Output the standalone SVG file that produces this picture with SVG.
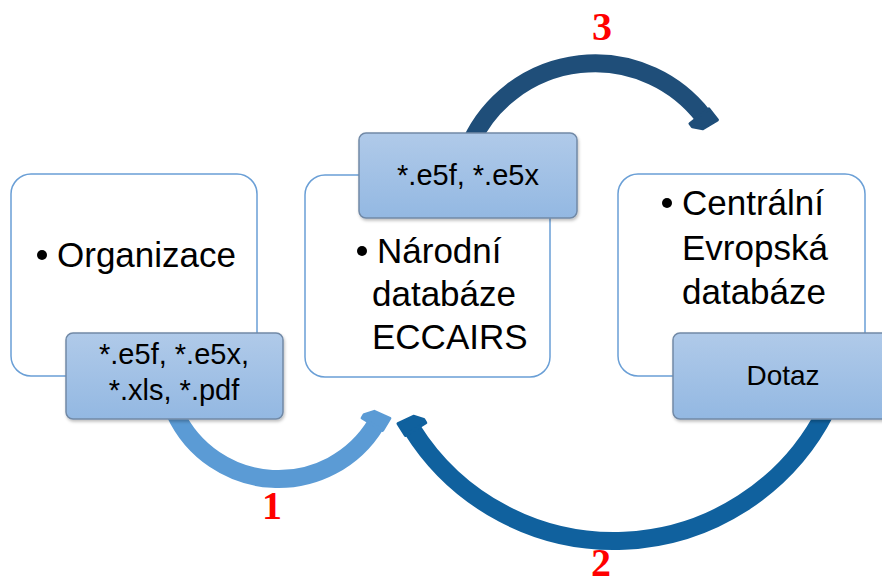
<svg xmlns="http://www.w3.org/2000/svg" width="882" height="586" viewBox="0 0 882 586">
  <defs>
    <linearGradient id="subGrad" x1="0" y1="0" x2="0" y2="1">
      <stop offset="0" stop-color="#b0cae9"/>
      <stop offset="1" stop-color="#93b8e2"/>
    </linearGradient>
    <filter id="shadow" x="-10%" y="-10%" width="130%" height="140%">
      <feDropShadow dx="1" dy="2" stdDeviation="1.5" flood-color="#000" flood-opacity="0.25"/>
    </filter>
  </defs>
  <style>
    .main { fill: #ffffff; stroke: #6a9fd6; stroke-width: 1.5; }
    .sub { fill: url(#subGrad); stroke: #7189a6; stroke-width: 1.5; filter: url(#shadow); }
    .txt { font-family: "Liberation Sans", Arial, sans-serif; font-size: 35px; fill: #000; }
    .stxt { font-family: "Liberation Sans", Arial, sans-serif; font-size: 29px; fill: #000; text-anchor: middle; }
    .num { font-family: "Liberation Serif", "Times New Roman", serif; font-size: 40px; font-weight: bold; fill: #ff0000; text-anchor: middle; }
    .arc { fill: none; stroke-width: 18; }
    .head { stroke-width: 3; stroke-linejoin: round; }
  </style>

  <g id="connectors">
    <g id="arrow3">
      <path class="arc" stroke="#1f4e79" d="M 471,142 A 137 137 0 0 1 703,116"/>
      <polygon class="head" fill="#1f4e79" stroke="#1f4e79" points="-2,-9 12,-9 10,8 2,15 -2,15" transform="translate(703,116) rotate(52)"/>
    </g>
    <g id="arrow1">
      <path class="arc" stroke="#5b9bd5" d="M 175,413 A 114 114 0 0 0 376,424"/>
      <polygon class="head" fill="#5b9bd5" stroke="#5b9bd5" points="-2,9 12,9 10,-8 2,-15 -2,-15" transform="translate(376,424) rotate(-59)"/>
    </g>
    <g id="arrow2">
      <path class="arc" stroke="#10619e" d="M 826,411 A 238 238 0 0 1 412,429"/>
      <polygon class="head" fill="#10619e" stroke="#10619e" points="-2,-9 12,-9 10,8 2,15 -2,15" transform="translate(412,429) rotate(-122)"/>
    </g>
    <text class="num" x="602" y="40">3</text>
    <text class="num" x="272" y="519">1</text>
    <text class="num" x="601" y="576">2</text>
  </g>

  <g id="node-organizace">
    <rect class="main" x="11" y="174" width="246" height="202" rx="20" ry="20"/>
    <circle cx="42" cy="255" r="5"/>
    <text class="txt" x="57" y="267">Organizace</text>
  </g>
  <g id="node-narodni">
    <rect class="main" x="305" y="175" width="245" height="202" rx="20" ry="20"/>
    <circle cx="362" cy="251" r="5"/>
    <text class="txt" x="377" y="263">Národní</text>
    <text class="txt" x="372" y="306">databáze</text>
    <text class="txt" x="372" y="349">ECCAIRS</text>
  </g>
  <g id="node-centralni">
    <rect class="main" x="618" y="174" width="247" height="202" rx="20" ry="20"/>
    <circle cx="667" cy="203" r="5"/>
    <text class="txt" x="682" y="215">Centrální</text>
    <text class="txt" x="682" y="260">Evropská</text>
    <text class="txt" x="682" y="304">databáze</text>
  </g>

  <g id="sub-organizace">
    <rect class="sub" x="66" y="333" width="217" height="86" rx="7" ry="7"/>
    <text class="stxt" x="174" y="364">*.e5f, *.e5x,</text>
    <text class="stxt" x="174" y="400">*.xls, *.pdf</text>
  </g>
  <g id="sub-narodni">
    <rect class="sub" x="359" y="133" width="218" height="85" rx="7" ry="7"/>
    <text class="stxt" x="468" y="185">*.e5f, *.e5x</text>
  </g>
  <g id="sub-centralni">
    <rect class="sub" x="673" y="333" width="217" height="86" rx="7" ry="7"/>
    <text class="stxt" x="783" y="385" style="font-size:28px">Dotaz</text>
  </g>
</svg>
